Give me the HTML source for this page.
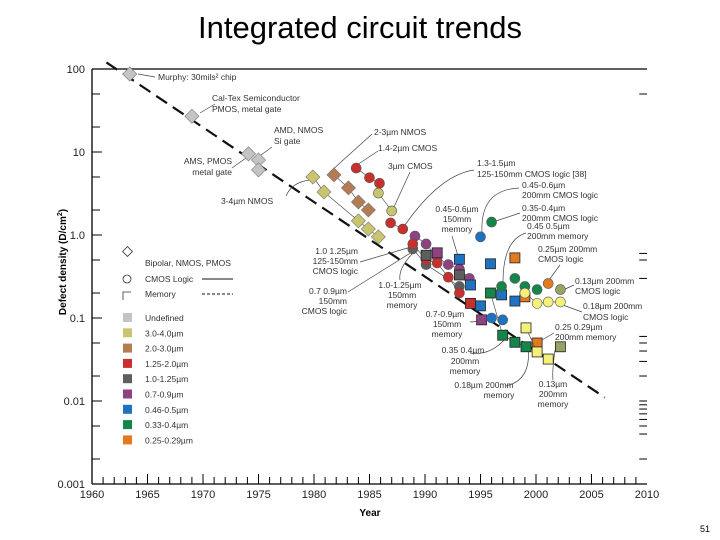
<!DOCTYPE html>
<html><head><meta charset="utf-8">
<style>
html,body{margin:0;padding:0;background:#fff;}
#wrap{position:relative;width:720px;height:540px;overflow:hidden;font-family:"Liberation Sans",sans-serif;}
#title{position:absolute;left:0;width:720px;top:10px;text-align:center;font-size:31px;color:#000;}
#pagenum{position:absolute;left:700px;top:524px;font-size:9px;}
svg text{font-family:"Liberation Sans",sans-serif;}
</style></head>
<body>
<div id="wrap">
<div id="title">Integrated circuit trends</div>
<svg id="chart" width="720" height="540" style="position:absolute;left:0;top:0"></svg>
<div id="pagenum">51</div>
</div>
<script>
// ---- data ----
const xTicks = [1960,1965,1970,1975,1980,1985,1990,1995,2000,2005,2010];
const yTicks = [100,10,1,0.1,0.01,0.001];
const yTickLabels = ["100","10","1.0","0.1","0.01","0.001"];
const trendYears = [1961.3, 2006.2];
const trendValues = [120, 0.011];
// marker series: years, values, shape (d=diamond,c=circle,s=square), category
const undefYears = [1963.4,1969.0,1974.1,1975.0,1975.0];
const undefValues = [87,27,9.5,8.0,6.1];
const nmos34Years = [1979.9,1980.9,1984.0,1984.9,1985.8];
const nmos34Values = [5.0,3.3,1.48,1.18,0.95];
const nmos23Years = [1981.8,1983.1,1984.0,1984.9];
const nmos23Values = [5.3,3.7,2.5,2.0];
const cmos14Years = [1983.8,1985.0,1985.9];
const cmos14Values = [6.4,4.9,4.2];
const cmos3Years = [1985.8,1987.0];
const cmos3Values = [3.2,1.95];
const cmos13Years = [1986.9,1988.0];
const cmos13Values = [1.4,1.18];
const redCircYears = [1988.9,1990.1,1991.1,1992.1,1993.1];
const redCircValues = [0.78,0.5,0.46,0.31,0.2];
const grayCircYears = [1988.9,1990.1,1993.1];
const grayCircValues = [0.68,0.44,0.24];
const purpCircYears = [1989.1,1990.1,1991.1,1992.1,1993.1,1994.0];
const purpCircValues = [0.97,0.78,0.54,0.44,0.39,0.3];
const purpSqYears = [1991.1,1995.1];
const purpSqValues = [0.61,0.095];
const graySqYears = [1990.1,1993.1];
const graySqValues = [0.57,0.33];
const redSqYears = [1994.1];
const redSqValues = [0.15];
const blueSqYears = [1993.1,1994.1,1995.0,1995.9,1996.9,1998.1];
const blueSqValues = [0.51,0.25,0.14,0.45,0.19,0.16];
const blueCircYears = [1995.0,1996.0,1997.0];
const blueCircValues = [0.95,0.10,0.095];
const greenCircYears = [1996.0,1996.9,1998.1,1999.0,2000.1];
const greenCircValues = [1.43,0.24,0.30,0.24,0.22];
const greenSqYears = [1995.9,1997.0,1998.1,1999.1];
const greenSqValues = [0.2,0.062,0.051,0.045];
const orangeSqYears = [1998.1,1999.0,2000.1];
const orangeSqValues = [0.53,0.18,0.05];
const orangeCircYears = [2001.1];
const orangeCircValues = [0.26];
const yellowCircYears = [1999.0,2000.1,2001.1,2002.2];
const yellowCircValues = [0.2,0.15,0.156,0.156];
const sageCircYears = [2002.2];
const sageCircValues = [0.22];
const yellowSqYears = [1999.1,2000.1,2001.1];
const yellowSqValues = [0.076,0.039,0.032];
const sageSqYears = [2002.2];
const sageSqValues = [0.045];
const legendLabels = ["Undefined","3.0-4.0\u00b5m","2.0-3.0\u00b5m","1.25-2.0\u00b5m","1.0-1.25\u00b5m","0.7-0.9\u00b5m","0.46-0.5\u00b5m","0.33-0.4\u00b5m","0.25-0.29\u00b5m"];

const C = {gray:"#c4c4c4",olive:"#c9c46e",brown:"#b47c55",red:"#c8302e",dark:"#5e5e5e",purple:"#8e4282",blue:"#1f72c0",green:"#14864a",orange:"#e27a20",yellow:"#f4f07a",sage:"#94a464"};
const legendColors = [C.gray,C.olive,C.brown,C.red,C.dark,C.purple,C.blue,C.green,C.orange];

const series = [
 [undefYears,undefValues,"d",C.gray,"undefined-diamond",false],
 [nmos34Years,nmos34Values,"d",C.olive,"nmos-3-4um-diamond",true],
 [nmos23Years,nmos23Values,"d",C.brown,"nmos-2-3um-diamond",true],
 [cmos14Years,cmos14Values,"c",C.red,"cmos-1-4-2um-circle",true],
 [cmos3Years,cmos3Values,"c",C.olive,"cmos-3um-circle",true],
 [cmos13Years,cmos13Values,"c",C.red,"cmos-1-3um-circle",true],
 [purpCircYears,purpCircValues,"c",C.purple,"purple-circle",true],
 [grayCircYears,grayCircValues,"c",C.dark,"gray-circle",true],
 [redCircYears,redCircValues,"c",C.red,"red-circle",true],
 [graySqYears,graySqValues,"s",C.dark,"gray-square",false],
 [purpSqYears,purpSqValues,"s",C.purple,"purple-square",false],
 [redSqYears,redSqValues,"s",C.red,"red-square",false],
 [blueSqYears,blueSqValues,"s",C.blue,"blue-square",false],
 [blueCircYears,blueCircValues,"c",C.blue,"blue-circle",false],
 [greenSqYears,greenSqValues,"s",C.green,"green-square",true],
 [greenCircYears,greenCircValues,"c",C.green,"green-circle",false],
 [orangeSqYears,orangeSqValues,"s",C.orange,"orange-square",false],
 [orangeCircYears,orangeCircValues,"c",C.orange,"orange-circle",false],
 [yellowCircYears,yellowCircValues,"c",C.yellow,"yellow-circle",true],
 [sageCircYears,sageCircValues,"c",C.sage,"sage-circle",false],
 [yellowSqYears,yellowSqValues,"s",C.yellow,"yellow-square",true],
 [sageSqYears,sageSqValues,"s",C.sage,"sage-square",false]
];

// ---- axes ----
const X0=92, PX_YR=11.1, Y0=69, PX_DEC=83;
const xs = yr => X0 + (yr-1960)*PX_YR;
const ys = v => Y0 + (2-Math.log10(v))*PX_DEC;
const svg = document.getElementById('chart');
const NS="http://www.w3.org/2000/svg";
function mk(tag, attrs, parent){const e=document.createElementNS(NS,tag);for(const k in attrs)e.setAttribute(k,attrs[k]);(parent||svg).appendChild(e);return e;}

// frame
let e;
e=mk('line',{x1:X0,y1:Y0,x2:X0,y2:ys(0.001),stroke:'#000','stroke-width':1.3});


e=mk('line',{x1:X0,y1:ys(0.001),x2:xs(2010),y2:ys(0.001),stroke:'#000','stroke-width':1.3});


e=mk('line',{x1:X0,y1:Y0,x2:xs(2010),y2:Y0,stroke:'#000','stroke-width':1.2});



// y ticks
for(let i=0;i<yTicks.length;i++){
  const y=ys(yTicks[i]);
  e=mk('text',{x:X0-7,y:y+4,'text-anchor':'end','font-size':11,fill:'#222'});
  e.textContent=yTickLabels[i];
  
  
  e=mk('line',{x1:X0,y1:y,x2:X0+10,y2:y,stroke:'#000','stroke-width':1});
  
  
  if(i<yTicks.length-1){
    for(const m of [2,5]){
      const yy=ys(yTicks[i]/10*m);
      e=mk('line',{x1:X0,y1:yy,x2:X0+8,y2:yy,stroke:'#000','stroke-width':1});
      
      
    }
  }
}
// right side ticks
for(const v of [50,0.6,0.5,0.3,0.06,0.05,0.04,0.03,0.02,0.01,0.009,0.008,0.007,0.006,0.005,0.004,0.002]){
  e=mk('line',{x1:xs(2009.3),y1:ys(v),x2:xs(2010),y2:ys(v),stroke:'#000','stroke-width':1});
  
  
}
// x ticks
for(let yr=1961;yr<2010;yr++){
  const big = yr%5===0;
  e=mk('line',{x1:xs(yr),y1:ys(0.001),x2:xs(yr),y2:ys(0.001)-(big?10:7),stroke:'#000','stroke-width':1});
  
  
}
for(const t of xTicks){
  e=mk('text',{x:xs(t),y:ys(0.001)+14,'text-anchor':'middle','font-size':11,fill:'#222'});
  e.textContent=t;
  
  
}
e=mk('text',{x:370,y:516,'text-anchor':'middle','font-size':10,'font-weight':'bold'});
e.textContent='Year';


e=mk('text',{x:0,y:0,'text-anchor':'middle','font-size':10,'font-weight':'bold',transform:'translate(66,262) rotate(-90)'});
e.innerHTML='Defect density (D/cm<tspan dy="-4" font-size="7">2</tspan><tspan dy="4">)</tspan>';



// trend line
e=mk('line',{x1:xs(trendYears[0]),y1:ys(trendValues[0]),x2:xs(trendYears[1]),y2:ys(trendValues[1]),stroke:'#111','stroke-width':2.2,'stroke-dasharray':'13,7'});



// annotations (text)
const notes = [
 ["Murphy: 30mils\u00b2 chip",158,80,"start"],
 ["Cal-Tex Semiconductor",212,101,"start"],["PMOS, metal gate",212,112,"start"],
 ["AMD, NMOS",274,133,"start"],["Si gate",274,144,"start"],
 ["AMS, PMOS",232,164,"end"],["metal gate",232,175,"end"],
 ["3-4\u00b5m NMOS",221,204,"start"],
 ["2-3\u00b5m NMOS",374,135,"start"],["1.4-2\u00b5m CMOS",378,151,"start"],["3\u00b5m CMOS",388,169,"start"],
 ["1.3-1.5\u00b5m",477,166,"start"],["125-150mm CMOS logic [38]",477,177,"start"],
 ["0.45-0.6\u00b5m",522,188,"start"],["200mm CMOS logic",522,198,"start"],
 ["0.45-0.6\u00b5m",457,212,"middle"],["150mm",457,222,"middle"],["memory",457,232,"middle"],
 ["0.35-0.4\u00b5m",522,211,"start"],["200mm CMOS logic",522,221,"start"],
 ["0.45 0.5\u00b5m",527,229,"start"],["200mm memory",527,239,"start"],
 ["0.25\u00b5m 200mm",538,252,"start"],["CMOS logic",538,262,"start"],
 ["0.13\u00b5m 200mm",575,284,"start"],["CMOS logic",575,294,"start"],
 ["0.18\u00b5m 200mm",583,309,"start"],["CMOS logic",583,320,"start"],
 ["0.25 0.29\u00b5m",555,330,"start"],["200mm memory",555,340,"start"],
 ["0.13\u00b5m",553,387,"middle"],["200mm",553,397,"middle"],["memory",553,407,"middle"],
 ["0.18\u00b5m 200mm",484,388,"middle"],["memory",499,398,"middle"],
 ["0.35 0.4\u00b5m",463,353,"middle"],["200mm",465,364,"middle"],["memory",465,374,"middle"],
 ["0.7-0.9\u00b5m",445,317,"middle"],["150mm",447,327,"middle"],["memory",447,337,"middle"],
 ["1.0-1.25\u00b5m",400,288,"middle"],["150mm",402,298,"middle"],["memory",402,308,"middle"],
 ["1.0 1.25\u00b5m",358,254,"end"],["125-150mm",358,264,"end"],["CMOS logic",358,274,"end"],
 ["0.7 0.9\u00b5m",347,294,"end"],["150mm",347,304,"end"],["CMOS logic",347,314,"end"]
];
for(const n of notes){
  e=mk('text',{x:n[1],y:n[2],'text-anchor':n[3],'font-size':8.5,fill:'#333'});
  e.textContent=n[0];
  
  
}
// leader lines
const leaders = ["M138,74 L155,77","M200,113 L215,104","M261,155 L272,147","M232,168 L246,158",
 "M286,196 Q292,182 310,180","M330,172 L372,134","M357,165 L378,151","M394,207 L410,172",
 "M405,225 Q440,175 474,170","M482,232 Q480,190 519,188","M458,256 L452,236","M496,221 L520,213",
 "M503,282 Q503,240 526,233","M549,280 L560,265","M563,290 L574,285","M560,304 L582,312",
 "M540,341 L554,333","M555,350 Q552,372 553,380","M528,346 Q532,380 506,386","M505,339 Q490,356 470,353",
 "M483,321 L470,322","M414,252 Q398,268 400,280","M411,247 L360,262","M412,252 L348,292"];
for(const d of leaders){
  e=mk('path',{d:d,fill:'none',stroke:'#444','stroke-width':0.7});
  
  
}

// markers
function marker(shape,x,y,col,g){
  if(shape==='d') return mk('rect',{x:x-5,y:y-5,width:10,height:10,fill:col,stroke:'#777','stroke-width':0.6,transform:`rotate(45 ${x} ${y})`},g);
  if(shape==='c') return mk('circle',{cx:x,cy:y,r:5,fill:col,stroke:'#555','stroke-width':0.6},g);
  return mk('rect',{x:x-5,y:y-5,width:10,height:10,fill:col,stroke:'#222','stroke-width':0.8},g);
}
for(const s of series){
  const [yrs,vals,shape,col,name,connect]=s;
  const g=mk('g',{});
  
  
  if(connect && yrs.length>1){
    const pts=yrs.map((yr,i)=>xs(yr)+','+ys(vals[i])).join(' ');
    e=mk('polyline',{points:pts,fill:'none',stroke:'#555','stroke-width':0.7},g);
    
    
  }
  for(let i=0;i<yrs.length;i++){
    e=marker(shape,xs(yrs[i]),ys(vals[i]),col,g);
    
    
  }
}

// legend
const lg=mk('g',{});


e=mk('rect',{x:124,y:248,width:7,height:7,fill:'#fff',stroke:'#333','stroke-width':0.8,transform:'rotate(45 127.5 251.5)'},lg);


e=mk('circle',{cx:127,cy:279,r:4,fill:'#fff',stroke:'#333','stroke-width':0.8},lg);


e=mk('path',{d:'M123,300 L123,292 L131,292',fill:'none',stroke:'#333','stroke-width':0.8},lg);


const shapeLabels=[["Bipolar, NMOS, PMOS",266],["CMOS Logic",282],["Memory",297]];
for(const t of shapeLabels){
  e=mk('text',{x:145,y:t[1],'font-size':8.5,fill:'#333'},lg);
  e.textContent=t[0];
  
  
}
e=mk('line',{x1:202,y1:279,x2:233,y2:279,stroke:'#111','stroke-width':1},lg);


e=mk('line',{x1:202,y1:294,x2:233,y2:294,stroke:'#111','stroke-width':1,'stroke-dasharray':'3,2'},lg);


for(let i=0;i<legendLabels.length;i++){
  const y=318+i*15.3;
  e=mk('rect',{x:123,y:y-5,width:9,height:9,fill:legendColors[i]},lg);
  
  
  e=mk('text',{x:145,y:y+3,'font-size':8.5,fill:'#333'},lg);
  e.textContent=legendLabels[i];
  
  
}
</script>
</body></html>
